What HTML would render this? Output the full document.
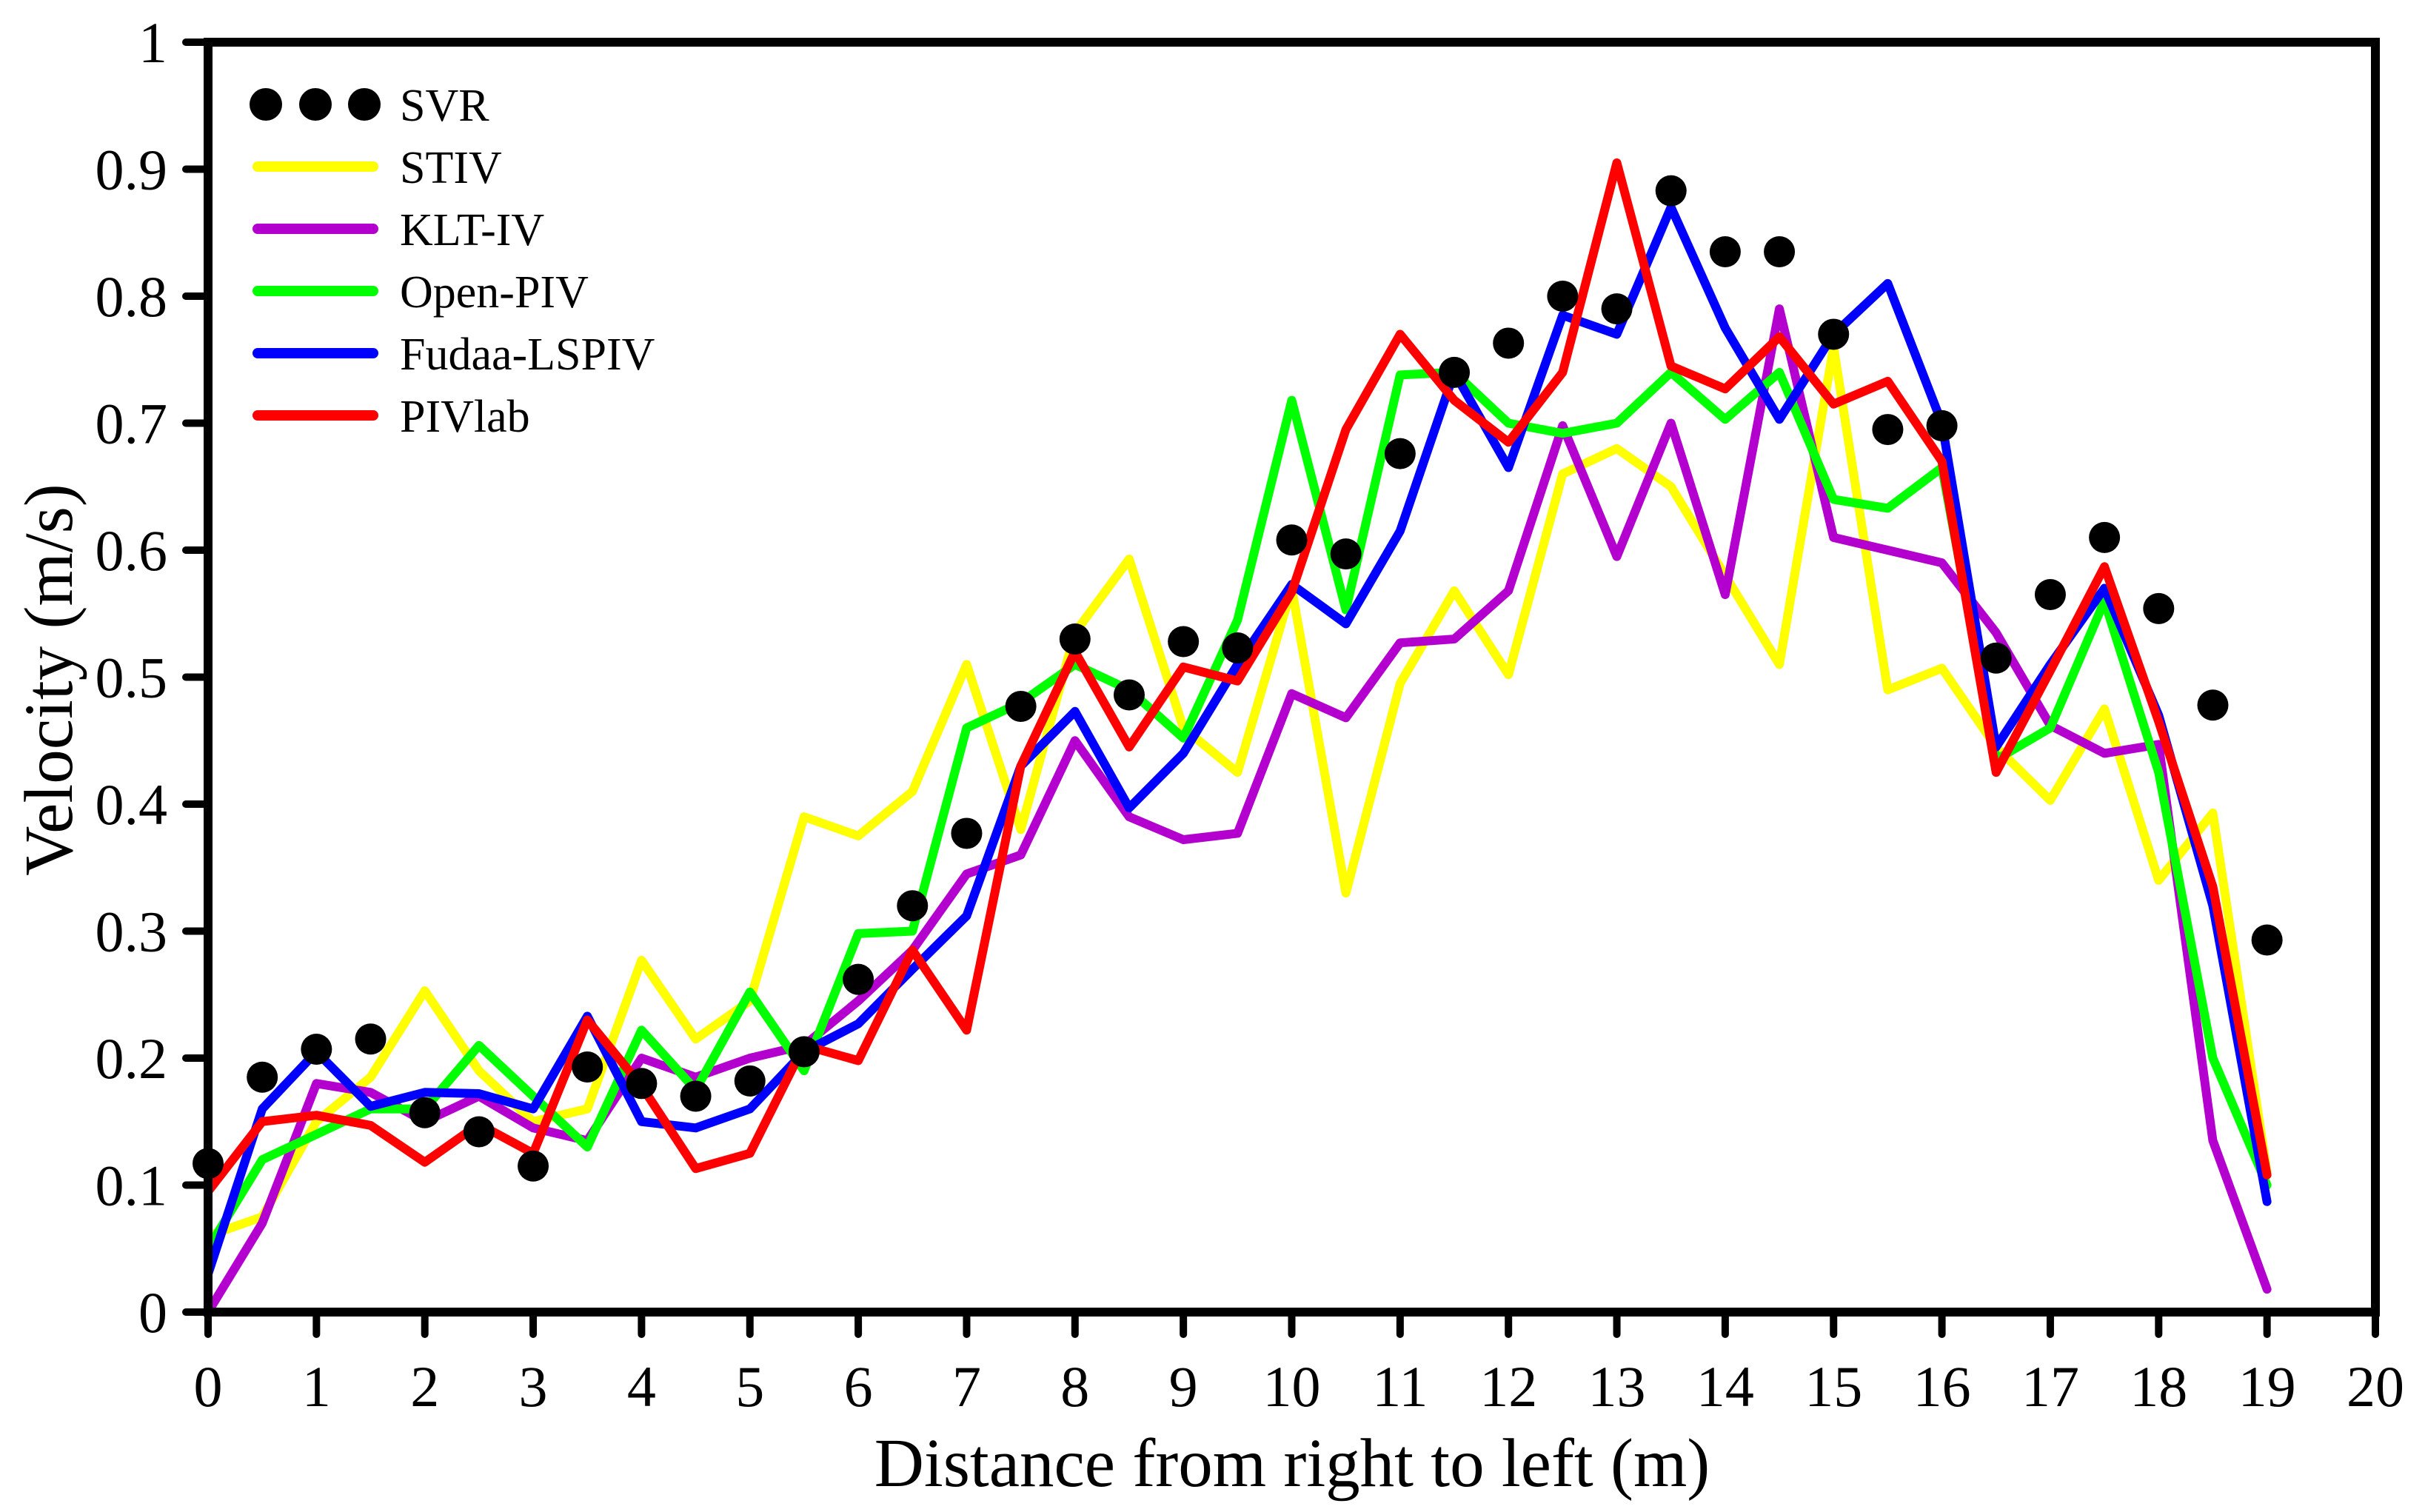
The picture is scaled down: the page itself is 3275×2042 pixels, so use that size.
<!DOCTYPE html>
<html><head><meta charset="utf-8"><style>
html,body{margin:0;padding:0;background:#fff;}
svg{display:block;font-family:"Liberation Serif",serif;}
</style></head><body>
<svg id="chart" width="3275" height="2042" viewBox="0 0 3275 2042">
<g id="marks"></g>
<g id="axes"></g>
<g id="legend"></g>
<text x="1745" y="2007" font-size="93" text-anchor="middle">Distance from right to left (m)</text>
<text x="0" y="0" font-size="93" text-anchor="middle" transform="translate(97,918) rotate(-90)">Velocity (m/s)</text>
</svg>
<script>
const distances = [0,0.5,1,1.5,2,2.5,3,3.5,4,4.5,5,5.5,6,6.5,7,7.5,8,8.5,9,9.5,10,10.5,11,11.5,12,12.5,13,13.5,14,14.5,15,15.5,16,16.5,17,17.5,18,18.5,19];
const svr = [0.117,0.185,0.207,0.215,0.157,0.142,0.115,0.193,0.18,0.17,0.182,0.205,0.262,0.32,0.377,0.477,0.53,0.486,0.528,0.523,0.608,0.597,0.676,0.74,0.763,0.8,0.79,0.883,0.835,0.835,0.77,0.695,0.698,0.515,0.565,0.61,0.554,0.478,0.293];
const stiv = [0.06,0.075,0.15,0.185,0.253,0.19,0.15,0.16,0.277,0.215,0.245,0.39,0.375,0.41,0.51,0.38,0.535,0.593,0.46,0.425,0.57,0.33,0.495,0.568,0.502,0.66,0.68,0.65,0.58,0.51,0.76,0.49,0.507,0.445,0.403,0.475,0.34,0.393,0.11];
const kltiv = [0,0.07,0.18,0.173,0.15,0.17,0.145,0.135,0.2,0.185,0.2,0.21,0.245,0.285,0.345,0.36,0.45,0.39,0.372,0.377,0.487,0.468,0.527,0.53,0.568,0.698,0.595,0.7,0.565,0.79,0.61,0.6,0.59,0.535,0.462,0.44,0.447,0.135,0.018];
const openpiv = [0.05,0.12,0.14,0.16,0.16,0.21,0.17,0.13,0.222,0.175,0.252,0.19,0.298,0.3,0.46,0.48,0.51,0.49,0.452,0.545,0.718,0.553,0.738,0.74,0.7,0.692,0.7,0.74,0.703,0.74,0.64,0.633,0.665,0.435,0.46,0.56,0.425,0.2,0.1];
const fudaa = [0.03,0.16,0.205,0.162,0.173,0.172,0.16,0.233,0.15,0.145,0.16,0.205,0.227,0.27,0.312,0.43,0.473,0.397,0.44,0.51,0.573,0.542,0.615,0.74,0.665,0.785,0.77,0.87,0.775,0.703,0.77,0.81,0.7,0.445,0.51,0.57,0.47,0.32,0.087];
const pivlab = [0.095,0.15,0.155,0.147,0.118,0.148,0.125,0.23,0.178,0.113,0.125,0.21,0.198,0.285,0.222,0.43,0.52,0.445,0.508,0.497,0.567,0.695,0.77,0.718,0.685,0.74,0.905,0.745,0.727,0.768,0.715,0.733,0.67,0.425,0.505,0.587,0.465,0.335,0.108];
const xTicks = [0,1,2,3,4,5,6,7,8,9,10,11,12,13,14,15,16,17,18,19,20];
const yTicks = [0,0.1,0.2,0.3,0.4,0.5,0.6,0.7,0.8,0.9,1];
const yTickLabels = ["0","0.1","0.2","0.3","0.4","0.5","0.6","0.7","0.8","0.9","1"];
const seriesNames = ["SVR","STIV","KLT-IV","Open-PIV","Fudaa-LSPIV","PIVlab"];

const NS="http://www.w3.org/2000/svg";
const X0=281,X1=3208,Y0=1772,Y1=57;
const xs=v=>X0+(v-0)/(20-0)*(X1-X0);
const ys=v=>Y0-(v-0)/(1-0)*(Y0-Y1);
function mk(tag,attrs,parent){const e=document.createElementNS(NS,tag);for(const k in attrs)e.setAttribute(k,attrs[k]);parent.appendChild(e);return e;}
const marks=document.getElementById('marks'),axes=document.getElementById('axes'),legend=document.getElementById('legend');

const lines=[[stiv,'#ffff00','stiv-line'],[kltiv,'#b400cf','klt-iv-line'],[openpiv,'#00ff00','open-piv-line'],[fudaa,'#0000ff','fudaa-lspiv-line'],[pivlab,'#ff0000','pivlab-line']];
lines.forEach(([data,col,name])=>{
  const p=mk('polyline',{points:data.map((v,i)=>xs(distances[i])+','+ys(v)).join(' '),fill:'none',stroke:col,'stroke-width':12,'stroke-linejoin':'round','stroke-linecap':'round'},marks);
  
  
});
svr.forEach((v,i)=>{
  const c=mk('circle',{cx:xs(distances[i]),cy:ys(v),r:21,fill:'#000'},marks);
  
  
});

const fr=mk('rect',{x:X0,y:Y1,width:X1-X0,height:Y0-Y1,fill:'none',stroke:'#000','stroke-width':12},axes);


xTicks.forEach(t=>{
  const l=mk('line',{x1:xs(t),x2:xs(t),y1:Y0,y2:Y0+30,stroke:'#000','stroke-width':10,'stroke-linecap':'round'},axes);
  
  
  const tx=mk('text',{x:xs(t),y:1899,'font-size':78,'text-anchor':'middle'},axes);
  tx.textContent=t;
  
  
});
yTicks.forEach((t,i)=>{
  const l=mk('line',{x1:X0-30,x2:X0,y1:ys(t),y2:ys(t),stroke:'#000','stroke-width':10,'stroke-linecap':'round'},axes);
  
  
  const tx=mk('text',{x:226,y:ys(t)+27,'font-size':78,'text-anchor':'end'},axes);
  tx.textContent=yTickLabels[i];
  
  
});

const legCols=['#000','#ffff00','#b400cf','#00ff00','#0000ff','#ff0000'];
seriesNames.forEach((n,i)=>{
  const y=141+i*84;
  if(i===0){
    [359,426,492].forEach(cx=>{
      const c=mk('circle',{cx:cx,cy:y,r:22,fill:'#000'},legend);
      
      
    });
  }else{
    const l=mk('line',{x1:348,x2:504,y1:y,y2:y,stroke:legCols[i],'stroke-width':14,'stroke-linecap':'round'},legend);
    
    
  }
  const tx=mk('text',{x:540,y:y+22,'font-size':62},legend);
  tx.textContent=n;
  
  
});
</script>
</body></html>
